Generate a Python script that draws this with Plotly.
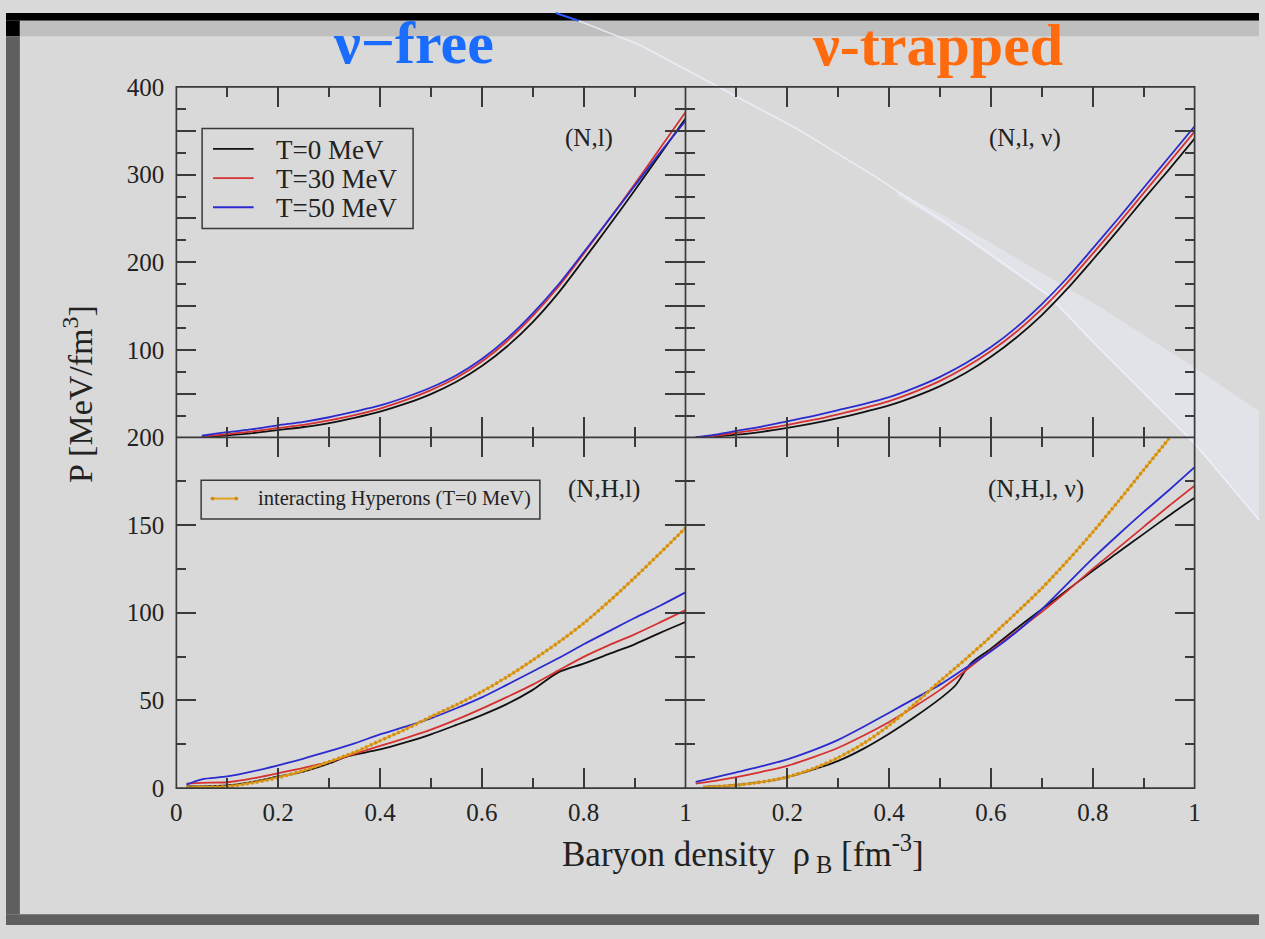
import plotly.graph_objects as go

# ---------------------------------------------------------------------------
# Pressure vs. baryon density, P [MeV/fm^3]
# ---------------------------------------------------------------------------

# (N,l) : nucleons + leptons, neutrino-free
rho_nl = [0.05, 0.10, 0.15, 0.20, 0.25, 0.30, 0.35, 0.40, 0.45, 0.50,
          0.55, 0.60, 0.65, 0.70, 0.75, 0.80, 0.85, 0.90, 0.95, 1.00]
p_nl_t0 = [1.0, 3.0, 5.5, 9.0, 12.5, 17.0, 23.0, 30.0, 39.0, 50.0,
           64.0, 82.0, 104.5, 132, 165, 203, 242, 282, 323, 364]
p_nl_t30 = [1.5, 4.4, 7.5, 11.4, 15.0, 20.0, 26.0, 33.5, 43.0, 54.5,
            68.5, 87.0, 110.5, 139, 172, 210, 249, 289, 330, 371]
p_nl_t50 = [2.5, 6.6, 10.0, 14.4, 18.4, 23.6, 30.0, 37.0, 46.4, 57.5,
            71.5, 90.0, 113.5, 142, 174.5, 211.5, 249, 287, 325, 361]

# (N,l,nu) : nucleons + leptons, neutrino-trapped
rho_nlv = [0.02, 0.05, 0.10, 0.15, 0.20, 0.25, 0.30, 0.35, 0.40, 0.45, 0.50,
           0.55, 0.60, 0.65, 0.70, 0.75, 0.80, 0.85, 0.90, 0.95, 1.00]
p_nlv_t0 = [0.3, 1.2, 3.7, 7.0, 11.4, 16.5, 22.5, 29.5, 37.0, 47.0, 59.0,
            74.0, 92.5, 114.5, 140, 170, 203, 237, 272, 306, 341]
p_nlv_t30 = [0.5, 2.0, 6.0, 10.0, 15.0, 20.5, 27.0, 34.0, 42.0, 52.5, 65.0,
             80.5, 99.0, 121, 147, 177, 210, 244, 279, 314, 349]
p_nlv_t50 = [0.8, 3.0, 8.0, 13.0, 19.0, 25.0, 31.7, 38.5, 46.4, 57.0, 69.6,
             85.0, 103.5, 126, 152.5, 182.5, 216, 250, 285, 320, 355]

# (N,H,l) : nucleons + hyperons + leptons, neutrino-free
rho_nhl_t0 = [0.02, 0.05, 0.10, 0.15, 0.20, 0.25, 0.30, 0.33, 0.35, 0.40, 0.45,
              0.50, 0.55, 0.60, 0.65, 0.70, 0.75, 0.80, 0.85, 0.90, 0.95, 1.00]
p_nhl_t0 = [1.0, 1.0, 1.5, 3.5, 6.6, 9.4, 14.0, 17.5, 19.0, 22.0, 26.0,
            30.6, 36.0, 41.6, 48.0, 56.0, 66.0, 71.0, 76.5, 82.0, 88.5, 94.7]
rho_nhl = [0.02, 0.05, 0.10, 0.15, 0.20, 0.25, 0.30, 0.35, 0.40, 0.45, 0.50,
           0.55, 0.60, 0.65, 0.70, 0.75, 0.80, 0.85, 0.90, 0.95, 1.00]
p_nhl_t30 = [2.5, 3.0, 3.3, 5.5, 8.5, 11.5, 15.0, 19.5, 24.0, 28.5, 33.3,
             39.0, 45.3, 52.0, 59.0, 67.0, 74.8, 81.5, 87.7, 94.5, 101.5]
p_nhl_t50 = [2.0, 5.0, 6.6, 9.5, 13.0, 16.8, 21.0, 25.5, 30.6, 35.0, 39.8,
             45.5, 51.7, 59.0, 66.5, 74.0, 82.0, 89.5, 97.0, 104.0, 111.6]
p_nhl_hyp = [0.5, 0.6, 1.0, 3.0, 6.0, 10.0, 15.0, 20.4, 27.0, 33.5, 40.7,
             47.5, 55.0, 63.5, 73.0, 83.0, 94.0, 106.5, 120.0, 134.0, 148.4]

# (N,H,l,nu) : nucleons + hyperons + leptons, neutrino-trapped
rho_nhlv_t0 = [0.04, 0.10, 0.15, 0.20, 0.25, 0.30, 0.35, 0.40, 0.45, 0.50, 0.53,
               0.56, 0.60, 0.65, 0.70, 0.75, 0.80, 0.85, 0.90, 0.95, 1.00]
p_nhlv_t0 = [0.8, 1.7, 3.5, 6.3, 10.5, 15.5, 22.5, 31.0, 40.5, 51.0, 58.5,
             71.0, 79.5, 91.0, 102.0, 113.0, 124.0, 134.5, 145.0, 155.5, 165.6]
rho_nhlv = [0.02, 0.05, 0.10, 0.15, 0.20, 0.25, 0.30, 0.35, 0.40, 0.45, 0.50,
            0.55, 0.60, 0.65, 0.70, 0.75, 0.80, 0.85, 0.90, 0.95, 1.00]
p_nhlv_t30 = [2.5, 3.8, 6.3, 9.3, 12.7, 17.5, 23.0, 30.0, 37.7, 46.5, 56.0,
              67.0, 78.5, 89.5, 100.5, 112.5, 125.0, 137.0, 149.0, 161.0, 172.5]
p_nhlv_t50 = [3.5, 5.5, 9.0, 12.5, 16.4, 21.5, 27.5, 35.0, 43.0, 51.0, 59.0,
              68.5, 78.0, 89.0, 102.0, 116.5, 131.0, 144.5, 157.5, 170.0, 183.0]
rho_nhlv_hyp = [0.035, 0.10, 0.15, 0.20, 0.25, 0.30, 0.35, 0.40, 0.45, 0.50,
                0.55, 0.60, 0.65, 0.70, 0.75, 0.80, 0.85, 0.90, 0.95]
p_nhlv_hyp = [0.4, 1.7, 3.5, 6.3, 11.0, 17.4, 25.5, 35.8, 48.0, 61.0,
              73.5, 86.5, 100.0, 114.0, 129.5, 146.0, 163.5, 181.5, 199.5]

# legend names and tick labels
temp_names = ["T=0 MeV", "T=30 MeV", "T=50 MeV"]
hyp_name = "interacting Hyperons (T=0 MeV)"
x_ticks_left = [0, 0.2, 0.4, 0.6, 0.8, 1.0]
x_labels_left = ["0", "0.2", "0.4", "0.6", "0.8", "1"]
x_ticks_right = [0.2, 0.4, 0.6, 0.8, 1.0]
x_labels_right = ["0.2", "0.4", "0.6", "0.8", "1"]
y_ticks_bot = [0, 50, 100, 150, 200]
y_labels_bot = ["0", "50", "100", "150", "200"]

# ---------------------------------------------------------------------------
W, H = 1265, 939
FONT = "Liberation Serif, Times New Roman, serif"
TXT = "#222222"
AX = "#3a3a3a"
C_T0, C_T30, C_T50, C_HYP = "#111111", "#d63030", "#2b2bd0", "#e2a21e"
C_BEAD = "#d08a10"
temp_colors = [C_T0, C_T30, C_T50]

# frame of the 2x2 panel block (pixels)
X0, XM, X1 = 172, 686, 1200
Y0, YM, Y1 = 76, 437, 798


def px(x):
    return x / W


def py(y):
    return 1 - y / H


fig = go.Figure()


def curve(x, y, color, xa, ya, name=None, width=1.8, dash=None):
    fig.add_trace(go.Scatter(
        x=x, y=y, mode="lines", name=name, xaxis=xa, yaxis=ya,
        line=dict(color=color, width=width, shape="spline", smoothing=0.8,
                  dash=dash),
        showlegend=False, hoverinfo="skip"))


def beaded(x, y, xa, ya):
    # solid line plus a dotted overlay giving the beaded look
    curve(x, y, C_HYP, xa, ya, name=hyp_name, width=2)
    curve(x, y, C_BEAD, xa, ya, name=hyp_name, width=3.5, dash="2px,3px")


# top-left (N,l)
for p, c, n in zip([p_nl_t0, p_nl_t30, p_nl_t50], temp_colors, temp_names):
    curve(rho_nl, p, c, "x3", "y3", n)
# top-right (N,l,nu)
for p, c, n in zip([p_nlv_t0, p_nlv_t30, p_nlv_t50], temp_colors, temp_names):
    curve(rho_nlv, p, c, "x4", "y4", n)
# bottom-left (N,H,l)
curve(rho_nhl_t0, p_nhl_t0, C_T0, "x", "y", temp_names[0])
curve(rho_nhl, p_nhl_t30, C_T30, "x", "y", temp_names[1])
curve(rho_nhl, p_nhl_t50, C_T50, "x", "y", temp_names[2])
beaded(rho_nhl, p_nhl_hyp, "x", "y")
# bottom-right (N,H,l,nu)
curve(rho_nhlv_t0, p_nhlv_t0, C_T0, "x2", "y2", temp_names[0])
curve(rho_nhlv, p_nhlv_t30, C_T30, "x2", "y2", temp_names[1])
curve(rho_nhlv, p_nhlv_t50, C_T50, "x2", "y2", temp_names[2])
beaded(rho_nhlv_hyp, p_nhlv_hyp, "x2", "y2")

# ---------------------------------------------------------------------------
xL = [px(X0), px(XM)]
xR = [px(XM), px(X1)]
yT = [py(YM), py(Y0)]
yB = [py(Y1), py(YM)]

base = dict(showline=False, mirror="ticks",
            ticks="inside", ticklen=20, tickwidth=1.5, tickcolor=AX,
            showgrid=False, zeroline=False, fixedrange=True,
            tickfont=dict(family=FONT, size=25, color=TXT))
minor_style = dict(ticks="inside", ticklen=10, tickwidth=1.5, tickcolor=AX)


def xaxis(domain, anchor, ticks=None, labels=None):
    d = dict(base, domain=domain, anchor=anchor, range=[0, 1],
             ticklabelstandoff=7,
             minor=dict(minor_style, tickmode="linear", tick0=0, dtick=0.1))
    if ticks is None:
        d.update(tickmode="linear", tick0=0, dtick=0.2, showticklabels=False)
    else:
        d.update(tickmode="array", tickvals=ticks, ticktext=labels)
    return d


def yaxis_bottom(anchor, labelled):
    d = dict(base, domain=yB, anchor=anchor, range=[0, 200],
             ticklabelstandoff=11,
             minor=dict(minor_style, tickmode="linear", tick0=0, dtick=25))
    if labelled:
        d.update(tickmode="array", tickvals=y_ticks_bot, ticktext=y_labels_bot)
    else:
        d.update(tickmode="linear", tick0=0, dtick=50, showticklabels=False)
    return d


def yaxis_top(anchor, labelled):
    # long ticks every 50, labels every 100; the zero label is left to the
    # lower panel's "200", so the range starts just above zero
    return dict(base, domain=yT, anchor=anchor, range=[0.6, 400],
                tickmode="linear", tick0=0, dtick=50, ticklabelstep=2,
                showticklabels=labelled, ticklabelstandoff=11,
                minor=dict(minor_style, tickmode="linear", tick0=0, dtick=25))


def path(points):
    return "M " + " L ".join(f"{px(a):.5f},{py(b):.5f}" for a, b in points)


def rect(x0, y0, x1, y1, color, layer="below", line=None):
    return dict(type="rect", xref="paper", yref="paper", layer=layer,
                x0=px(x0), x1=px(x1), y0=py(y1), y1=py(y0),
                fillcolor=color, line=line or dict(width=0))


def seg(x0, y0, x1, y1, color, width):
    return dict(type="line", xref="paper", yref="paper", layer="above",
                x0=px(x0), x1=px(x1), y0=py(y0), y1=py(y1),
                line=dict(color=color, width=width))


def dot(x, y, r, color):
    return dict(type="circle", xref="paper", yref="paper", layer="above",
                x0=px(x - r), x1=px(x + r), y0=py(y + r), y1=py(y - r),
                fillcolor=color, line=dict(width=0))


frame = dict(color=AX, width=1.7)
shapes = [
    # slide background
    rect(0, 0, W, 8, "#000000"),
    rect(0, 8, 14, 24, "#000000"),
    rect(14, 8, W, 24, "#bfbfbf"),
    rect(0, 24, 14, 928, "#5f5f5f"),
    rect(0, 928, W, H, "#5f5f5f"),
    # light swoosh band crossing the right-hand side
    dict(type="path", xref="paper", yref="paper", layer="below",
         path=path([(900, 183), (953, 212), (1053, 272), (1100, 300),
                    (1200, 365), (1265, 410), (1265, 522), (1200, 445),
                    (1100, 343), (1053, 293), (953, 221), (900, 188)]) + " Z",
         fillcolor="rgba(236,239,250,0.45)", line=dict(width=0)),
    dict(type="path", xref="paper", yref="paper", layer="below",
         path=path([(578, 8), (640, 33), (719, 76), (800, 120), (880, 170),
                    (953, 219), (1053, 291), (1100, 341), (1200, 443),
                    (1265, 522)]),
         line=dict(color="rgba(240,243,255,0.75)", width=1.6)),
    dict(type="path", xref="paper", yref="paper", layer="below",
         path=path([(555, 0), (578, 8)]),
         line=dict(color="#2b59ff", width=2)),
    # panel frames
    rect(X0, Y0, X1, Y1, "rgba(0,0,0,0)", layer="above", line=frame),
    seg(XM, Y0, XM, Y1, AX, 1.7),
    seg(X0, YM, X1, YM, AX, 1.7),
    # legend boxes
    rect(198, 119, 411, 222, "rgba(0,0,0,0)", layer="above",
         line=dict(color=AX, width=1.5)),
    rect(197, 481, 539, 521, "rgba(0,0,0,0)", layer="above",
         line=dict(color=AX, width=1.5)),
]
for i, c in enumerate(temp_colors):
    shapes.append(seg(209, 140 + 30 * i, 250, 140 + 30 * i, c, 1.8))
shapes.append(seg(208, 500, 233, 500, C_HYP, 2))
shapes.append(dot(208.5, 500, 2, C_BEAD))
shapes.append(dot(232.5, 500, 2, C_BEAD))


def label(text, x, y, size, color=TXT, angle=0, xanchor="center"):
    return dict(text=text, x=px(x), y=py(y), xref="paper", yref="paper",
                showarrow=False, textangle=angle, xanchor=xanchor,
                yanchor="middle", font=dict(family=FONT, size=size,
                                            color=color))


annotations = [
    label("<b>\u03bd\u2212free</b>", 411, 31, 60, color="#1a6cff"),
    label("<b>\u03bd-trapped</b>", 940, 33, 60, color="#ff6a0d"),
    label("(N,l)", 589, 129, 25),
    label("(N,l, \u03bd)", 1029, 129, 25),
    label("(N,H,l)", 604, 490, 25),
    label("(N,H,l, \u03bd)", 1040, 490, 25),
    label("P [MeV/fm<sup>3</sup>]", 72, 392, 34, angle=-90),
    label("Baryon density\u00a0\u00a0\u03c1<sub>\u00a0B</sub> [fm<sup>-3</sup>]",
          744, 865, 35),
]
for i, n in enumerate(temp_names):
    annotations.append(label(n, 271, 141 + 30 * i, 27, xanchor="left"))
annotations.append(label(hyp_name, 252, 500, 20.5, xanchor="left"))

fig.update_layout(
    width=W, height=H, autosize=False,
    margin=dict(l=0, r=0, t=0, b=0, pad=0),
    paper_bgcolor="#d9d9d9", plot_bgcolor="rgba(0,0,0,0)",
    font=dict(family=FONT, color=TXT),
    xaxis=xaxis(xL, "y", x_ticks_left, x_labels_left),
    xaxis2=xaxis(xR, "y2", x_ticks_right, x_labels_right),
    xaxis3=xaxis(xL, "y3"),
    xaxis4=xaxis(xR, "y4"),
    yaxis=yaxis_bottom("x", True),
    yaxis2=yaxis_bottom("x2", False),
    yaxis3=yaxis_top("x3", True),
    yaxis4=yaxis_top("x4", False),
    showlegend=False,
    shapes=shapes,
    annotations=annotations,
    hovermode=False,
)

# page chrome: no body margin so the figure sits flush in the window
page_css = (
    "var s=document.createElement('style');"
    "s.textContent='html,body{margin:0!important;padding:0!important;"
    "overflow:hidden;background:#5f5f5f;}';"
    "document.head.appendChild(s);"
)
fig.write_html(
    "out.html",
    config={"displayModeBar": False, "responsive": False},
    post_script=page_css,
)
